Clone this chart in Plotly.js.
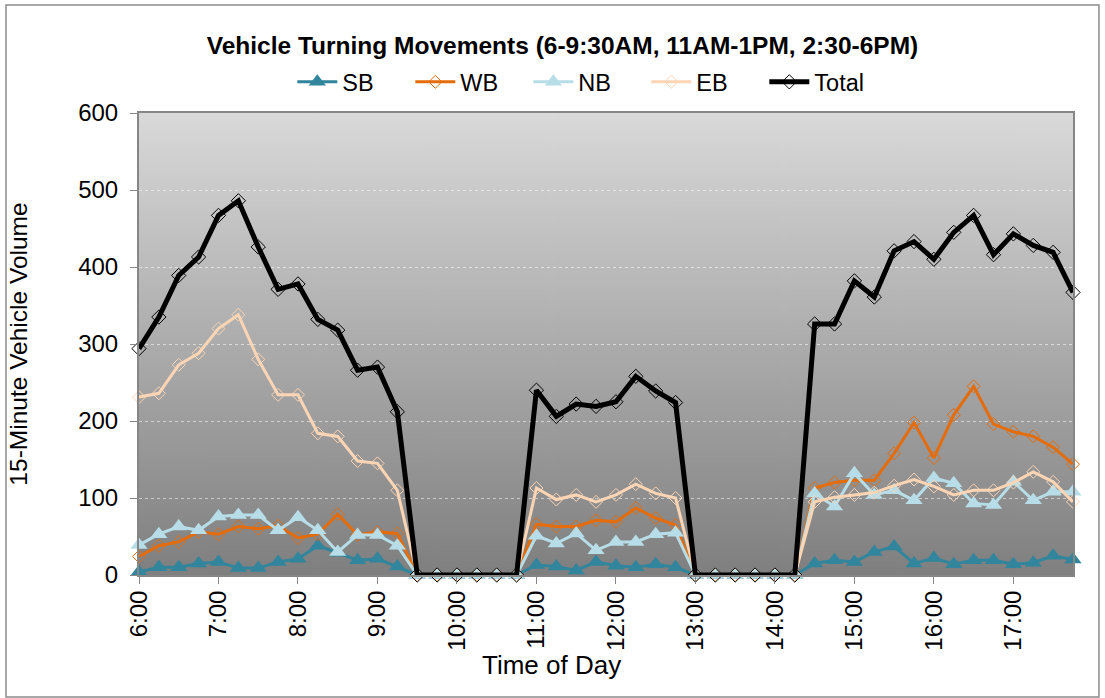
<!DOCTYPE html>
<html>
<head>
<meta charset="utf-8">
<script src="https://cdn.plot.ly/plotly-3.0.1.min.js"></script>
<style>html,body{margin:0;padding:0;background:#fff;}#chart{width:1105px;height:698px;}</style>
</head>
<body>
<div id="chart"></div>
<script>
var times = ['6:00','6:15','6:30','6:45','7:00','7:15','7:30','7:45','8:00','8:15','8:30','8:45',
  '9:00','9:15','9:30','9:45','10:00','10:15','10:30','10:45','11:00','11:15','11:30','11:45',
  '12:00','12:15','12:30','12:45','13:00','13:15','13:30','13:45','14:00','14:15','14:30','14:45',
  '15:00','15:15','15:30','15:45','16:00','16:15','16:30','16:45','17:00','17:15','17:30','17:45'];
var tickLabels = ['6:00','7:00','8:00','9:00','10:00','11:00','12:00','13:00','14:00','15:00','16:00','17:00'];

var SB = [4,10,10,15,17,9,9,17,21,38,29,19,21,11, 0,0,0,0,0,0, 13,11,6,17,12,10,14,10, 0,0,0,0,0,0,
  15,19,17,30,37,15,22,14,19,19,14,16,25,20];
var WB = [24,38,43,56,53,63,60,64,48,53,79,52,56,54, 0,0,0,0,0,0, 66,63,63,71,69,87,74,65, 0,0,0,0,0,0,
  113,120,123,123,158,198,152,208,245,196,186,180,166,144];
var NB = [39,53,63,58,76,78,78,58,75,58,30,52,52,38, 0,0,0,0,0,0, 51,41,54,32,43,43,53,55, 0,0,0,0,0,0,
  106,89,132,104,110,97,126,119,93,91,121,97,108,108];
var EB = [231,236,273,288,320,338,280,234,234,184,180,148,145,110, 0,0,0,0,0,0, 113,98,104,95,104,118,106,100, 0,0,0,0,0,0,
  95,101,104,107,116,124,115,104,110,110,120,134,121,95];
var Total = [294,335,389,413,467,486,426,371,378,332,318,266,270,212, 0,0,0,0,0,0, 240,206,222,219,225,258,239,224, 0,0,0,0,0,0,
  326,326,382,361,421,433,410,445,467,416,443,428,419,367];

var FONT = 'Liberation Sans, Arial, sans-serif';

function grad() {
  var c = document.createElement('canvas');
  c.width = 8; c.height = 462;
  var g = c.getContext('2d');
  var lg = g.createLinearGradient(0, 0, 0, 462);
  lg.addColorStop(0, '#d9d9d9');
  lg.addColorStop(1, '#7f7f7f');
  g.fillStyle = lg;
  g.fillRect(0, 0, 8, 462);
  return c.toDataURL('image/png');
}

function series(name, y, color, lw, symbol, msize, mline) {
  return {
    type: 'scatter', mode: 'lines+markers', name: name, x: times, y: y,
    line: {color: color, width: lw},
    marker: {symbol: symbol, size: msize, color: color, line: {color: color, width: mline}},
    cliponaxis: false
  };
}

var data = [
  series('SB', SB, '#31859c', 3, 'triangle-up', 15, 0),
  series('WB', WB, '#e46c0a', 3, 'diamond-open', 10, 1),
  series('NB', NB, '#b7dee8', 3, 'triangle-up', 15, 0),
  series('EB', EB, '#fcd5b5', 3, 'diamond-open', 10, 1),
  series('Total', Total, '#000000', 5, 'diamond-open', 11, 1)
];

var layout = {
  width: 1105, height: 698,
  margin: {l: 139, r: 32, t: 113, b: 123},
  paper_bgcolor: '#ffffff',
  plot_bgcolor: 'rgba(0,0,0,0)',
  font: {family: FONT, size: 24, color: '#000'},
  title: {text: '<b>Vehicle Turning Movements (6-9:30AM, 11AM-1PM, 2:30-6PM)</b>',
    font: {family: FONT, size: 24.5, color: '#000'},
    xref: 'container', yref: 'container', x: 0.509, xanchor: 'center', y: 0.9355, yanchor: 'middle'},
  showlegend: true,
  legend: {orientation: 'h', x: 0.48, xanchor: 'center', y: 1.067, yanchor: 'middle',
    font: {family: FONT, size: 23.5, color: '#000'}, bgcolor: 'rgba(0,0,0,0)',
    entrywidth: 63, entrywidthmode: 'pixels', itemwidth: 40},
  xaxis: {
    type: 'category', categoryorder: 'array', categoryarray: times,
    range: [0, times.length - 1],
    tickmode: 'array', tickvals: tickLabels, ticktext: tickLabels,
    tickangle: -90, ticks: 'outside', ticklen: 7, tickcolor: '#868686', tickwidth: 1,
    ticklabelstandoff: -3,
    showline: true, linecolor: '#868686', linewidth: 2, mirror: true,
    showgrid: false, zeroline: false,
    tickfont: {family: FONT, size: 24, color: '#000'},
    automargin: false
  },
  yaxis: {
    range: [0, 600], dtick: 100, tick0: 0,
    ticks: 'outside', ticklen: 7, tickcolor: '#868686', tickwidth: 1,
    ticklabelstandoff: 7,
    showline: true, linecolor: '#868686', linewidth: 2, mirror: true,
    showgrid: true, gridcolor: 'rgba(255,255,255,0.55)', griddash: 'dot', gridwidth: 1,
    zeroline: false,
    tickfont: {family: FONT, size: 24, color: '#000'},
    title: {text: '15-Minute Vehicle Volume', font: {family: FONT, size: 24.5, color: '#000'}, standoff: 44},
    automargin: false
  },
  annotations: [{text: 'Time of Day', xref: 'paper', yref: 'paper', x: 0.442, xanchor: 'center',
    y: -0.195, yanchor: 'middle', showarrow: false, font: {family: FONT, size: 26, color: '#000'}}],
  images: [{source: grad(), xref: 'paper', yref: 'paper', x: 0, y: 1, sizex: 1, sizey: 1,
    xanchor: 'left', yanchor: 'top', sizing: 'stretch', layer: 'below'}],
  shapes: [{type: 'rect', xref: 'paper', yref: 'paper', x0: -0.1424, x1: 1.0278, y0: -0.264, y1: 1.2338,
    line: {color: '#8c8c8c', width: 1.5}, fillcolor: 'rgba(0,0,0,0)', layer: 'below'}]
};

Plotly.newPlot('chart', data, layout, {displayModeBar: false, staticPlot: true});
</script>
</body>
</html>
